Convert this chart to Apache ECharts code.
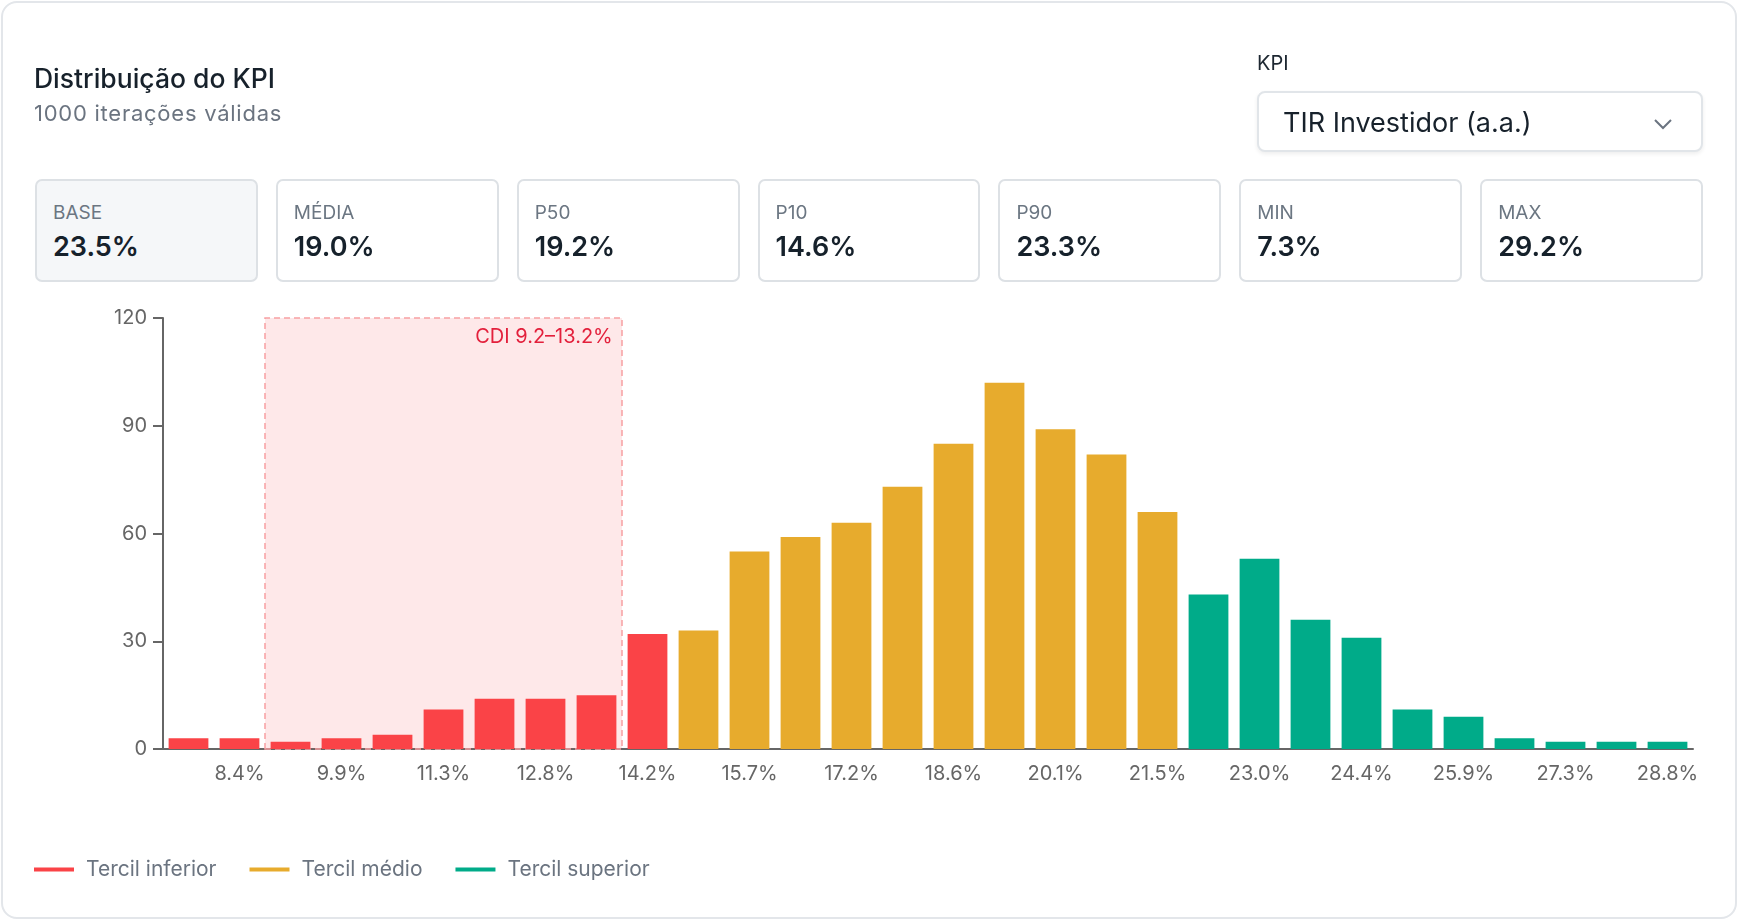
<!DOCTYPE html>
<html lang="pt-BR">
<head>
<meta charset="utf-8">
<title>Distribuição do KPI</title>
<script src="https://cdn.jsdelivr.net/npm/echarts@6/dist/echarts.min.js"></script>
<style>
  html, body { margin: 0; padding: 0; background: #fff; }
  body { width: 1738px; height: 920px; position: relative; overflow: hidden; font-family: Inter, "Noto Sans", sans-serif; }
  .card { position: absolute; left: 1px; top: 1px; width: 1736px; height: 918px; box-sizing: border-box;
          border: 2px solid #e3e6ea; border-radius: 16px; }
  .title { position: absolute; left: 34px; top: 65px; font-size: 26.5px; line-height: 26px; font-weight: 500; color: #17212b; }
  .subtitle { position: absolute; left: 34px; top: 102px; font-size: 22px; line-height: 22px; letter-spacing: 0.75px; color: #6b7480; }
  .kpi-label { position: absolute; left: 1257px; top: 53px; font-size: 20px; line-height: 20px; color: #1d2731; }
  .select { position: absolute; left: 1257px; top: 91px; width: 446px; height: 61px; box-sizing: border-box;
            border: 2px solid #e1e5e9; border-radius: 8px; box-shadow: 0 2px 4px rgba(0,0,0,0.07); background: #fff; }
  .select span { position: absolute; left: 24px; top: 16px; font-size: 27px; line-height: 27px; color: #17212b; }
  .select svg { position: absolute; left: 394px; top: 24px; }
  .stats { position: absolute; left: 35px; top: 179px; width: 1668px; height: 103px; display: flex; gap: 18px; }
  .stat { flex: 1; position: relative; box-sizing: border-box; border: 2px solid #dde1e5; border-radius: 7px; background: #fff; }
  .stat.base { background: #f5f7f9; }
  .stat .lbl { position: absolute; left: 16px; top: 22px; font-size: 19px; line-height: 19px; color: #6b7682; }
  .stat .val { position: absolute; left: 16px; top: 52px; font-size: 27px; line-height: 27px; font-weight: 600; color: #16212b; }
  #chart { position: absolute; left: 0; top: 0; width: 1738px; height: 920px; }
</style>
</head>
<body>
<div class="card"></div>
<div id="chart"></div>
<div class="title">Distribuição do KPI</div>
<div class="subtitle">1000 iterações válidas</div>
<div class="kpi-label">KPI</div>
<div class="select">
  <span>TIR Investidor (a.a.)</span>
  <svg width="20" height="14" viewBox="0 0 20 14"><polyline points="2,3 10,11 18,3" fill="none" stroke="#6b7480" stroke-width="2"/></svg>
</div>
<div class="stats" id="stats"></div>

<script>
// dados
const statLabels = ['BASE', 'MÉDIA', 'P50', 'P10', 'P90', 'MIN', 'MAX'];
const statValues = ['23.5%', '19.0%', '19.2%', '14.6%', '23.3%', '7.3%', '29.2%'];

// centro de cada faixa do histograma
const bins = ['7.7%', '8.4%', '9.1%', '9.9%', '10.6%', '11.3%', '12.0%', '12.8%', '13.5%', '14.2%',
              '15.0%', '15.7%', '16.4%', '17.2%', '17.9%', '18.6%', '19.3%', '20.1%', '20.8%', '21.5%',
              '22.3%', '23.0%', '23.7%', '24.4%', '25.2%', '25.9%', '26.6%', '27.3%', '28.1%', '28.8%'];
const counts = [3, 3, 2, 3, 4, 11, 14, 14, 15, 32,
                33, 55, 59, 63, 73, 85, 102, 89, 82, 66,
                43, 53, 36, 31, 11, 9, 3, 2, 2, 2];

// tercis: faixa inicial de cada um
const tercilNames = ['Tercil inferior', 'Tercil médio', 'Tercil superior'];
const tercilStart = [0, 10, 20];
const tercilColors = ['#fa4347', '#e7ab2d', '#00ab89'];

// faixa do CDI (primeira e última faixa do histograma cobertas)
const cdiBins = [2, 8];
const cdiLabel = 'CDI 9.2–13.2%';

const yTicks = [0, 30, 60, 90, 120];

// cartões de estatística
let statsHtml = '';
statLabels.forEach(function (l, i) {
  statsHtml += '<div class="stat' + (i === 0 ? ' base' : '') + '"><div class="lbl">' + l +
               '</div><div class="val">' + statValues[i] + '</div></div>';
});
document.getElementById('stats').innerHTML = statsHtml;

function tercilOf(idx) {
  let t = 0;
  for (let k = 0; k < tercilStart.length; k++) if (idx >= tercilStart[k]) t = k;
  return t;
}

let myChart = echarts.init(document.getElementById('chart'));

let barSeries = tercilNames.map(function (name, t) {
  return {
    name: name,
    type: 'bar',
    stack: 'hist',
    barCategoryGap: '22%',
    itemStyle: { color: tercilColors[t] },
    data: counts.map(function (v, i) { return tercilOf(i) === t ? v : '-'; })
  };
});

let option = {
  animation: false,
  textStyle: { fontFamily: 'Inter' },
  color: tercilColors,
  grid: { left: 163, top: 318, width: 1530, height: 431 },
  legend: {
    left: 34,
    top: 859,
    padding: 0,
    icon: 'rect',
    itemWidth: 40,
    itemHeight: 4,
    itemGap: 33,
    data: tercilNames,
    textStyle: { fontSize: 21, color: '#6b7480', padding: [0, 0, 0, 7] }
  },
  xAxis: [
    {
      type: 'category',
      data: bins,
      axisLine: { lineStyle: { color: '#666', width: 2 } },
      axisTick: {
        alignWithLabel: true,
        length: 10,
        lineStyle: { color: '#666', width: 2 },
        interval: function (i) { return i % 2 === 1; }
      },
      axisLabel: {
        color: '#666',
        fontSize: 20,
        margin: 15,
        interval: function (i) { return i % 2 === 1; }
      }
    },
    { type: 'value', min: 0, max: counts.length, show: false }
  ],
  yAxis: {
    type: 'value',
    min: yTicks[0],
    max: yTicks[yTicks.length - 1],
    interval: yTicks[1] - yTicks[0],
    splitLine: { show: false },
    axisLine: { show: true, lineStyle: { color: '#666', width: 2 } },
    axisTick: { show: true, length: 10, lineStyle: { color: '#666', width: 2 } },
    axisLabel: { color: '#666', fontSize: 20, margin: 16 }
  },
  series: [
    {
      type: 'line',
      xAxisIndex: 1,
      z: 1,
      data: [],
      markArea: {
        silent: true,
        itemStyle: {
          color: 'rgba(250, 67, 71, 0.12)',
          borderColor: '#f7a0a3',
          borderWidth: 1.5,
          borderType: [6, 4]
        },
        label: {
          show: true,
          position: 'insideTopRight',
          distance: 10,
          color: '#e3203c',
          fontSize: 20
        },
        data: [[{ name: cdiLabel, xAxis: cdiBins[0] }, { xAxis: cdiBins[1] + 1 }]]
      }
    }
  ].concat(barSeries)
};

myChart.setOption(option);
</script>
</body>
</html>
